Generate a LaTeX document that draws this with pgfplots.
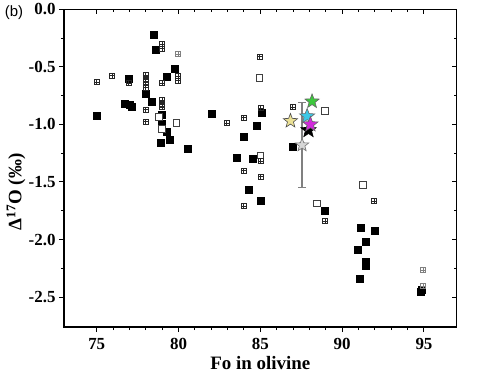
\documentclass[border=0pt]{standalone}
\usepackage{fontspec}
\setmainfont{Liberation Serif}
\newfontfamily\arialfont{Liberation Sans}
\usepackage{pgfplots}
\pgfplotsset{compat=1.18}

\pgfdeclareplotmark{gridsq}{%
  \pgfpathrectangle{\pgfqpoint{-\pgfplotmarksize}{-\pgfplotmarksize}}{\pgfqpoint{2\pgfplotmarksize}{2\pgfplotmarksize}}%
  \pgfpathmoveto{\pgfqpoint{-\pgfplotmarksize}{0pt}}\pgfpathlineto{\pgfqpoint{\pgfplotmarksize}{0pt}}%
  \pgfpathmoveto{\pgfqpoint{0pt}{-\pgfplotmarksize}}\pgfpathlineto{\pgfqpoint{0pt}{\pgfplotmarksize}}%
  \pgfusepathqstroke}

\pgfdeclareplotmark{fstar}{%
  \pgfpathmoveto{\pgfpointpolar{90}{\pgfplotmarksize}}%
  \pgfpathlineto{\pgfpointpolar{126}{0.42\pgfplotmarksize}}%
  \pgfpathlineto{\pgfpointpolar{162}{\pgfplotmarksize}}%
  \pgfpathlineto{\pgfpointpolar{198}{0.42\pgfplotmarksize}}%
  \pgfpathlineto{\pgfpointpolar{234}{\pgfplotmarksize}}%
  \pgfpathlineto{\pgfpointpolar{270}{0.42\pgfplotmarksize}}%
  \pgfpathlineto{\pgfpointpolar{306}{\pgfplotmarksize}}%
  \pgfpathlineto{\pgfpointpolar{342}{0.42\pgfplotmarksize}}%
  \pgfpathlineto{\pgfpointpolar{18}{\pgfplotmarksize}}%
  \pgfpathlineto{\pgfpointpolar{54}{0.42\pgfplotmarksize}}%
  \pgfpathclose
  \pgfusepathqfillstroke}

\definecolor{stargreen}{RGB}{60,200,60}
\definecolor{starcyan}{RGB}{60,200,230}
\definecolor{starmag}{RGB}{210,40,220}
\definecolor{staryel}{RGB}{235,225,150}
\definecolor{stargrey}{RGB}{215,215,215}

\begin{document}
\begin{tikzpicture}
\begin{axis}[
  scale only axis, width=392.7bp, height=317.7bp,
  xmin=73, xmax=97, ymin=-2.76, ymax=0,
  xtick={75,80,...,95}, minor x tick num=4,
  ytick={-2.5,-2,-1.5,-1,-0.5,0}, minor y tick num=1,
  /pgf/number format/assume math mode=true,
  xticklabel={\textbf{\pgfmathprintnumber{\tick}}},
  yticklabel={\textbf{\pgfmathprintnumber[fixed,fixed zerofill,precision=1]{\tick}}},
  tick label style={font=\rmfamily\bfseries\fontsize{17}{17}\selectfont},
  xticklabel style={yshift=-3bp},
  xtick pos=left, ytick pos=left, tick align=outside,
  major tick length=5bp, minor tick length=3bp,
  axis line style={line width=1.2bp},
  tick style={line width=1bp, black},
  xlabel={\textbf{Fo in olivine}},
  ylabel={\textbf{Δ\textsuperscript{17}O (‰)}},
  xlabel style={font=\fontsize{19}{19}\selectfont, at={(axis description cs:0.5,-0.1124)}, anchor=center},
  ylabel style={font=\fontsize{19}{19}\selectfont, at={(axis description cs:-0.1222,0.425)}, anchor=center},
  clip=false,
]
% filled black squares
\addplot[only marks, mark=square*, mark size=3.5bp, draw=black, fill=black] coordinates {
(78.49,-0.224) (78.6,-0.35) (79.77,-0.52) (79.26,-0.586) (76.96,-0.60)
(77.98,-0.736) (78.38,-0.80) (76.72,-0.82) (77.02,-0.83) (77.13,-0.85)
(75.0,-0.925) (79.0,-0.92) (78.95,-0.99) (78.95,-1.02) (79.3,-1.06)
(78.9,-1.16) (79.46,-1.13) (80.58,-1.215) (82.0,-0.905) (84.75,-1.01)
(83.96,-1.11) (83.57,-1.287) (84.55,-1.30) (85.1,-0.90) (86.98,-1.195)
(84.3,-1.565) (85.0,-1.667) (88.96,-1.75) (91.15,-1.90) (91.96,-1.92)
(91.46,-2.015) (90.95,-2.087) (91.46,-2.19) (91.46,-2.23) (91.05,-2.34)
(94.87,-2.44) (94.8,-2.455)
};
% open squares
\addplot[only marks, mark=square*, mark size=3.4bp, draw=black!75, fill=white, line width=0.9bp] coordinates {
(78.79,-0.934) (79.87,-0.99) (79.0,-1.04) (84.95,-0.595) (85.0,-1.27)
(88.95,-0.884) (91.25,-1.528) (88.45,-1.687)
};
% grid squares
\addplot[only marks, mark=gridsq, mark size=2.5bp, draw=black!85, line width=0.6bp] coordinates {
(79.0,-0.30) (79.0,-0.34) (84.95,-0.41) (79.97,-0.58) (79.97,-0.62)
(75.95,-0.574) (75.0,-0.63) (76.96,-0.64)
(77.98,-0.57) (77.98,-0.60) (77.98,-0.63) (77.98,-0.66) (77.98,-0.68)
(79.0,-0.64) (77.98,-0.87) (79.0,-0.79) (79.0,-0.82) (79.0,-0.85)
(77.98,-0.977) (82.92,-0.99) (83.96,-0.94) (85.0,-0.86) (83.96,-1.40)
(85.0,-1.32) (85.0,-1.455) (86.98,-0.85) (83.98,-1.71) (91.96,-1.667)
(88.96,-1.84)
};
% grey grid squares
\addplot[only marks, mark=gridsq, mark size=2.5bp, draw=black!50, line width=0.6bp] coordinates {
(79.97,-0.39) (94.93,-2.267) (94.93,-2.406)
};
% grey star with error bar
\addplot[only marks, mark=fstar, mark size=7bp, draw=black!55, fill=stargrey, line width=0.6bp,
  error bars/.cd, y dir=both, y explicit, error mark=-,
  error bar style={draw=black!50, line width=1.2bp},
  error mark options={rotate=90, draw=black!50, line width=1.2bp, mark size=4bp}] coordinates {
(87.55,-1.18) +- (0,0.37)
};
\addplot[only marks, mark=fstar, mark size=7.5bp, draw=black!70, fill=staryel, line width=0.6bp] coordinates {(86.84,-0.97)};
\addplot[only marks, mark=fstar, mark size=8bp, draw=black, fill=black, line width=0.6bp] coordinates {(87.94,-1.05)};
\addplot[only marks, mark=fstar, mark size=8bp, draw=black!60, fill=starcyan, line width=0.6bp] coordinates {(87.86,-0.93)};
\addplot[only marks, mark=fstar, mark size=8bp, draw=black!60, fill=starmag, line width=0.6bp] coordinates {(88.06,-1.00)};
\addplot[only marks, mark=fstar, mark size=7.5bp, draw=black!60, fill=stargreen, line width=0.6bp] coordinates {(88.16,-0.80)};
\end{axis}
% mirrored inward ticks on top and right
\begin{axis}[
  scale only axis, width=392.7bp, height=317.7bp,
  xmin=73, xmax=97, ymin=-2.76, ymax=0,
  xtick={75,80,...,95}, minor x tick num=4,
  ytick={-2.5,-2,-1.5,-1,-0.5,0}, minor y tick num=1,
  xticklabels={}, yticklabels={},
  xtick pos=right, ytick pos=right, tick align=inside,
  major tick length=5bp, minor tick length=3bp,
  axis line style={line width=1.2bp},
  tick style={line width=1bp, black},
]
\end{axis}
\node[font=\arialfont\fontsize{15}{15}\selectfont] at ([shift={(-50bp,-3bp)}]current axis.north west) {(b)};
\pgfresetboundingbox
\path ([shift={(-64bp,-47bp)}]current axis.south west) rectangle ([shift={(24.3bp,9.3bp)}]current axis.north east);
\end{tikzpicture}
\end{document}
